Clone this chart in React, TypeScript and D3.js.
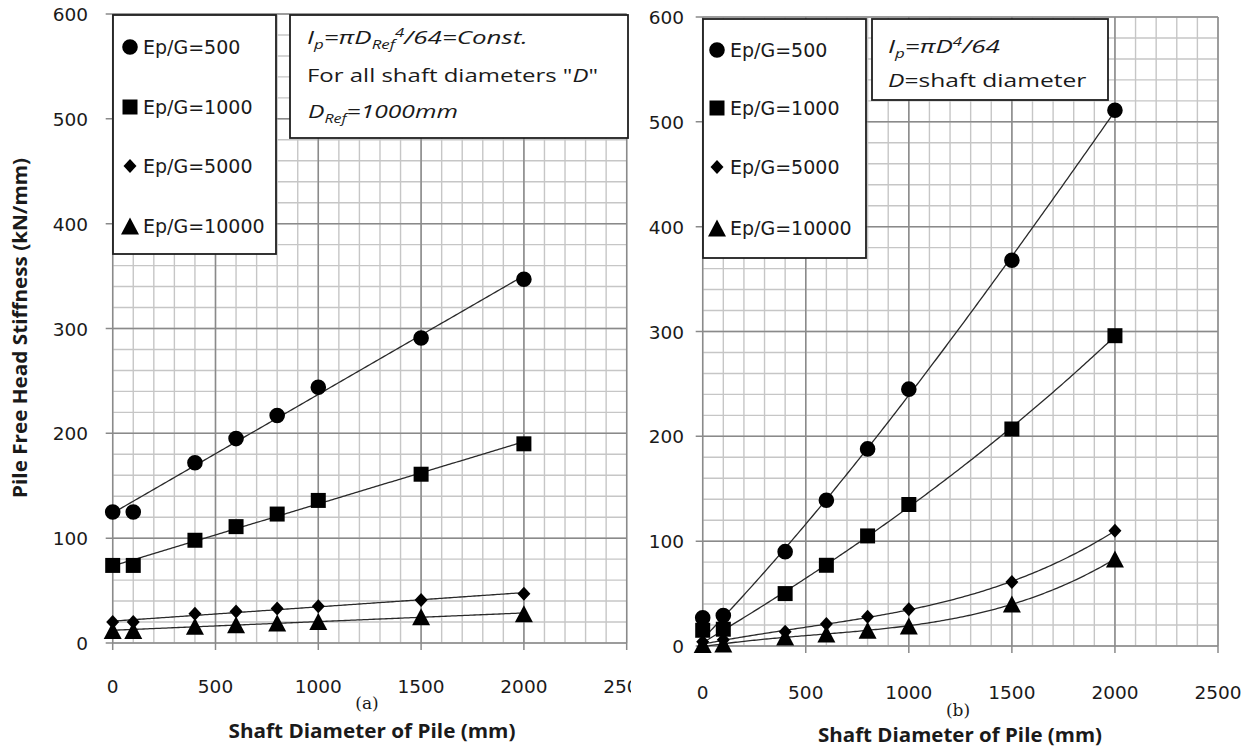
import React, { useLayoutEffect, useRef, useState } from "react";
import * as d3 from "d3";

// ---------- data ----------
const diameters = [0, 100, 400, 600, 800, 1000, 1500, 2000];
const seriesLabels = ["Ep/G=500", "Ep/G=1000", "Ep/G=5000", "Ep/G=10000"];
const markerShapes = ["circle", "square", "diamond", "triangle"];

// (a) Ip constant (D_ref = 1000mm)
const constIpEp500 = [125, 125, 172, 195, 217, 244, 291, 347];
const constIpEp1000 = [74, 74, 98, 111, 123, 136, 161, 190];
const constIpEp5000 = [20, 20, 28, 30, 33, 35, 41, 47];
const constIpEp10000 = [12, 12, 16, 17.5, 19, 20.5, 25, 28];

// (b) Ip = pi D^4 / 64
const varIpEp500 = [27, 29, 90, 139, 188, 245, 368, 511];
const varIpEp1000 = [15, 16, 50, 77, 105, 135, 207, 296];
const varIpEp5000 = [4, 6, 13.5, 21, 28, 35, 61, 110];
const varIpEp10000 = [1.5, 2, 8.5, 11.5, 15, 19, 40, 83];

const xTickValues = [0, 500, 1000, 1500, 2000, 2500];
const yTickValues = [0, 100, 200, 300, 400, 500, 600];
const xMinorStep = 100;
const yMinorStep = 20;

// ---------- helpers ----------
function polyfit(xs: number[], ys: number[], deg: number): number[] {
  const n = deg + 1;
  const A: number[][] = Array.from({ length: n }, () => new Array(n + 1).fill(0));
  xs.forEach((x, i) => {
    const xn = x / 1000;
    for (let r = 0; r < n; r++) {
      for (let c = 0; c < n; c++) A[r][c] += Math.pow(xn, r + c);
      A[r][n] += ys[i] * Math.pow(xn, r);
    }
  });
  for (let i = 0; i < n; i++) {
    let p = i;
    for (let k = i + 1; k < n; k++) if (Math.abs(A[k][i]) > Math.abs(A[p][i])) p = k;
    [A[i], A[p]] = [A[p], A[i]];
    for (let k = i + 1; k < n; k++) {
      const f = A[k][i] / A[i][i];
      for (let c = i; c <= n; c++) A[k][c] -= f * A[i][c];
    }
  }
  const coef = new Array(n).fill(0);
  for (let i = n - 1; i >= 0; i--) {
    let s = A[i][n];
    for (let c = i + 1; c < n; c++) s -= A[i][c] * coef[c];
    coef[i] = s / A[i][i];
  }
  return coef;
}
const evalPoly = (coef: number[], x: number) =>
  coef.reduce((s, c, i) => s + c * Math.pow(x / 1000, i), 0);

function markerPath(shape: string): string {
  switch (shape) {
    case "circle":
      return "M7.8,0A7.8,7.8 0 1,1 -7.8,0A7.8,7.8 0 1,1 7.8,0Z";
    case "square":
      return "M-7.5,-7.5H7.5V7.5H-7.5Z";
    case "diamond":
      return "M0,-7L6.5,0L0,7L-6.5,0Z";
    default:
      return "M0,-8.5L9,8.5H-9Z";
  }
}

const TEXT = "#1a1a1a";
const TICK_FONT = "'DejaVu Sans', Verdana, sans-serif";
const NOTE_FONT = "'Open Sans', 'Noto Sans', sans-serif";

function FitText(props: {
  x: number;
  y: number;
  width: number;
  children: React.ReactNode;
}) {
  const ref = useRef<SVGTextElement>(null);
  const [sx, setSx] = useState(1);
  useLayoutEffect(() => {
    if (ref.current) {
      const w = ref.current.getBBox().width;
      if (w > 0) setSx(props.width / w);
    }
  }, [props.width]);
  return (
    <g transform={`translate(${props.x},${props.y}) scale(${sx},1)`}>
      <text ref={ref} x={0} y={0} fontFamily={NOTE_FONT} fontSize={18.5} fill={TEXT}>
        {props.children}
      </text>
    </g>
  );
}

type PanelProps = {
  series: number[][];
  fitDegree: number;
  fitFromIndex: number;
  x0: number;
  x1: number;
  y0: number;
  y1: number;
  yLabelRight: number;
  xLabelY: number;
};

function Panel(p: PanelProps) {
  const x = d3.scaleLinear().domain([0, 2500]).range([p.x0, p.x1]);
  const y = d3.scaleLinear().domain([0, 600]).range([p.y0, p.y1]);
  const xMinor = d3.range(0, 2500 + 1, xMinorStep);
  const yMinor = d3.range(0, 600 + 1, yMinorStep);
  const line = d3
    .line<[number, number]>()
    .x((d) => x(d[0]))
    .y((d) => y(d[1]));
  const samples = d3.range(0, 2000 + 1, 10);

  return (
    <g>
      {/* minor grid */}
      {xMinor.map((v) => (
        <line key={"xm" + v} x1={x(v)} x2={x(v)} y1={y(0)} y2={y(600)} stroke="#c6c6c6" strokeWidth={1.4} />
      ))}
      {yMinor.map((v) => (
        <line key={"ym" + v} x1={x(0)} x2={x(2500)} y1={y(v)} y2={y(v)} stroke="#c6c6c6" strokeWidth={1.4} />
      ))}
      {/* major grid */}
      {xTickValues.map((v) => (
        <line key={"xM" + v} x1={x(v)} x2={x(v)} y1={y(0) + 7} y2={y(600)} stroke="#8a8a8a" strokeWidth={1.5} />
      ))}
      {yTickValues.map((v) => (
        <line key={"yM" + v} x1={x(0) - 7} x2={x(2500)} y1={y(v)} y2={y(v)} stroke="#8a8a8a" strokeWidth={1.5} />
      ))}
      {/* tick labels */}
      {yTickValues.map((v) => (
        <text key={"yl" + v} x={p.yLabelRight} y={y(v) + 7} textAnchor="end" fontFamily={TICK_FONT} fontSize={18.5} fill={TEXT}>
          {v}
        </text>
      ))}
      {xTickValues.map((v) => (
        <text key={"xl" + v} x={x(v)} y={p.xLabelY} textAnchor="middle" fontFamily={TICK_FONT} fontSize={18.5} fill={TEXT}>
          {v}
        </text>
      ))}
      {/* trend lines */}
      {p.series.map((vals, si) => {
        const xs = diameters.slice(p.fitFromIndex);
        const ys = vals.slice(p.fitFromIndex);
        const coef = polyfit(xs, ys, p.fitDegree);
        const pts: [number, number][] = samples.map((s) => [s, Math.max(0, evalPoly(coef, s))]);
        return <path key={"l" + si} d={line(pts) || ""} fill="none" stroke="#2a2a2a" strokeWidth={1.3} />;
      })}
      {/* markers */}
      {p.series.map((vals, si) =>
        vals.map((v, i) => (
          <path
            key={"m" + si + "-" + i}
            d={markerPath(markerShapes[si])}
            transform={`translate(${x(diameters[i])},${y(v)})`}
            fill="#000"
          />
        ))
      )}
    </g>
  );
}

function Legend(props: { x: number; y: number; w: number; h: number; rows: number[]; mx: number; tx: number }) {
  return (
    <g>
      <rect x={props.x} y={props.y} width={props.w} height={props.h} fill="#fff" stroke="#1e1e1e" strokeWidth={1.8} />
      {seriesLabels.map((lab, i) => (
        <g key={lab}>
          <path d={markerPath(markerShapes[i])} transform={`translate(${props.mx},${props.rows[i]})`} fill="#000" />
          <text x={props.tx} y={props.rows[i] + 7} fontFamily={TICK_FONT} fontSize={19} fill={TEXT}>
            {lab}
          </text>
        </g>
      ))}
    </g>
  );
}

export default function App() {
  const seriesA = [constIpEp500, constIpEp1000, constIpEp5000, constIpEp10000];
  const seriesB = [varIpEp500, varIpEp1000, varIpEp5000, varIpEp10000];
  return (
    <svg width={1255} height={749} style={{ position: "absolute", left: 0, top: 0, background: "#fff" }}>
      <rect x={0} y={0} width={1255} height={749} fill="#fff" />
      <defs>
        <clipPath id="leftClip">
          <rect x={0} y={0} width={631} height={749} />
        </clipPath>
      </defs>

      {/* ---------- (a) ---------- */}
      <g clipPath="url(#leftClip)">
        <Panel series={seriesA} fitDegree={1} fitFromIndex={0} x0={112.7} x1={626.7} y0={643} y1={14} yLabelRight={88} xLabelY={693} />
        <Legend x={113} y={15} w={163} h={239} rows={[47, 107, 166, 226]} mx={130} tx={143} />
        <rect x={290} y={15} width={338} height={123} fill="#fff" stroke="#1e1e1e" strokeWidth={1.8} />
        <FitText x={307} y={44} width={221}>
          <tspan fontStyle="italic">I</tspan>
          <tspan fontStyle="italic" fontSize={12} dy={5}>p</tspan>
          <tspan fontStyle="italic" dy={-5}>=πD</tspan>
          <tspan fontStyle="italic" fontSize={12} dy={5}>Ref</tspan>
          <tspan fontStyle="italic" fontSize={12} dy={-12}>4</tspan>
          <tspan fontStyle="italic" dy={7}>/64=Const.</tspan>
        </FitText>
        <FitText x={307} y={82} width={291}>
          <tspan>For all shaft diameters "</tspan>
          <tspan fontStyle="italic">D</tspan>
          <tspan>"</tspan>
        </FitText>
        <FitText x={308} y={118} width={150}>
          <tspan fontStyle="italic">D</tspan>
          <tspan fontStyle="italic" fontSize={12} dy={5}>Ref</tspan>
          <tspan fontStyle="italic" dy={-5}>=1000mm</tspan>
        </FitText>
      </g>
      <text
        transform="translate(27,328) rotate(-90)"
        textAnchor="middle"
        fontFamily={NOTE_FONT}
        fontWeight="bold"
        fontSize={19}
        textLength={340}
        lengthAdjust="spacingAndGlyphs"
        fill={TEXT}
      >
        Pile Free Head Stiffness (kN/mm)
      </text>
      <text x={367} y={709} textAnchor="middle" fontFamily="'DejaVu Serif', 'Liberation Serif', serif" fontSize={17} fill={TEXT}>
        (a)
      </text>
      <text x={372} y={738} textAnchor="middle" fontFamily={NOTE_FONT} fontWeight="bold" fontSize={19} textLength={287} lengthAdjust="spacingAndGlyphs" fill={TEXT}>
        Shaft Diameter of Pile (mm)
      </text>

      {/* ---------- (b) ---------- */}
      <Panel series={seriesB} fitDegree={3} fitFromIndex={1} x0={702.7} x1={1218} y0={646} y1={17} yLabelRight={684} xLabelY={699} />
      <Legend x={703} y={19} w={163} h={239} rows={[50, 108, 167, 228]} mx={717} tx={730} />
      <rect x={872} y={19} width={236} height={81} fill="#fff" stroke="#1e1e1e" strokeWidth={1.8} />
      <FitText x={888} y={53} width={112}>
        <tspan fontStyle="italic">I</tspan>
        <tspan fontStyle="italic" fontSize={12} dy={5}>p</tspan>
        <tspan fontStyle="italic" dy={-5}>=πD</tspan>
        <tspan fontStyle="italic" fontSize={12} dy={-7}>4</tspan>
        <tspan fontStyle="italic" dy={7}>/64</tspan>
      </FitText>
      <FitText x={888} y={87} width={199}>
        <tspan fontStyle="italic">D</tspan>
        <tspan>=shaft diameter</tspan>
      </FitText>
      <text x={958} y={716} textAnchor="middle" fontFamily="'DejaVu Serif', 'Liberation Serif', serif" fontSize={17} fill={TEXT}>
        (b)
      </text>
      <text x={960} y={742} textAnchor="middle" fontFamily={NOTE_FONT} fontWeight="bold" fontSize={19} textLength={284} lengthAdjust="spacingAndGlyphs" fill={TEXT}>
        Shaft Diameter of Pile (mm)
      </text>
    </svg>
  );
}
